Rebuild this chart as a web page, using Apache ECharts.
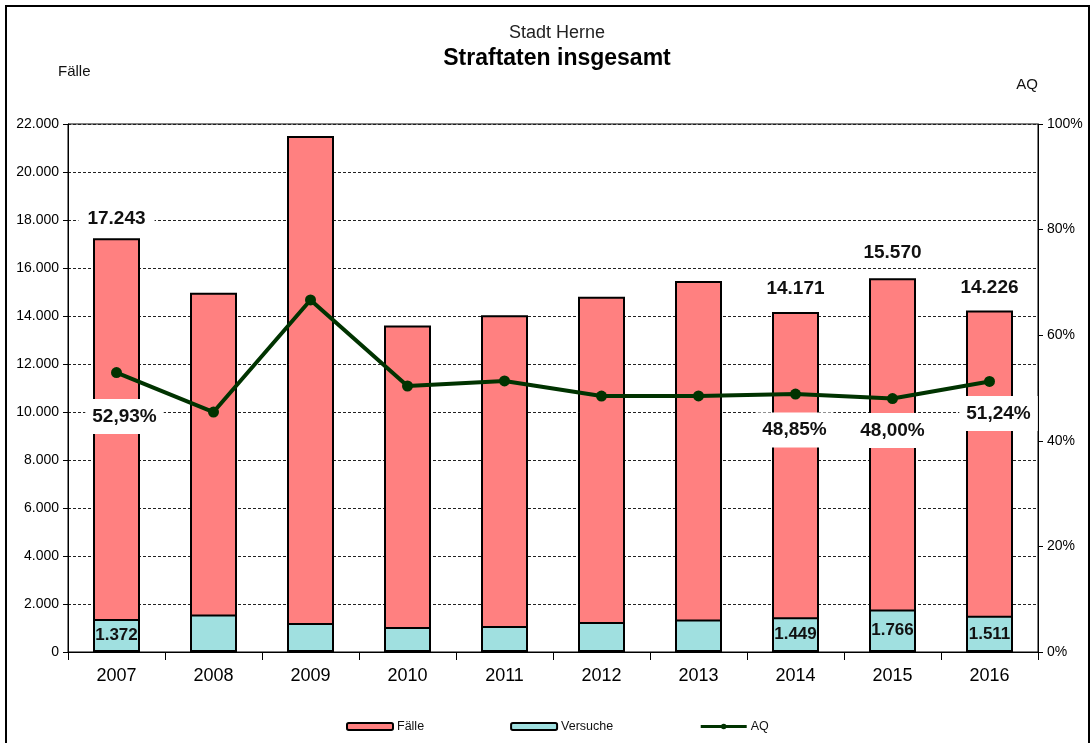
<!DOCTYPE html>
<html>
<head>
<meta charset="utf-8">
<script src="https://cdn.jsdelivr.net/npm/echarts@6/dist/echarts.min.js"></script>
<style>
html,body{margin:0;padding:0;background:#fff;}
#chart{width:1091px;height:743px;}
</style>
</head>
<body>
<div id="chart"></div>
<script>
// ---- Data ----
const categories = ['2007','2008','2009','2010','2011','2012','2013','2014','2015','2016'];
const faelle   = [17243, 14970, 21500, 13600, 14030, 14800, 15460, 14171, 15570, 14226];
const versuche = [1372, 1560, 1210, 1040, 1080, 1250, 1350, 1449, 1766, 1511];
const aq       = [52.93, 45.45, 66.67, 50.38, 51.33, 48.48, 48.50, 48.85, 48.00, 51.24];
const labelledYears = ['2007','2014','2015','2016'];
const leftTicks = {min: 0, max: 22000, interval: 2000};
const rightTicks = {min: 0, max: 100, interval: 20};

// ---- Styling helpers ----
const FONT = 'Liberation Sans, Arial, sans-serif';
const fmtNum = v => String(v).replace(/\B(?=(\d{3})+(?!\d))/g, '.');
const fmtPct = v => v.toFixed(2).replace('.', ',') + '%';
const isLabelled = i => labelledYears.includes(categories[i]);
const faelleLabelDist = {0: 7, 7: 11, 8: 13, 9: 10};
const aqLabelOffset = {0: [8, 44], 7: [-1, 36], 8: [0, 32], 9: [9, 32]};

const faelleData = faelle.map((v, i) => ({
  value: v,
  label: {show: isLabelled(i), distance: faelleLabelDist[i] || 8}
}));
const versucheData = versuche.map((v, i) => ({
  value: v,
  label: {show: isLabelled(i)}
}));
const aqData = aq.map((v, i) => ({
  value: v,
  label: {show: isLabelled(i), offset: aqLabelOffset[i] || [0, 32]}
}));

const chart = echarts.init(document.getElementById('chart'), null, {renderer: 'canvas'});
chart.setOption({
  backgroundColor: '#fff',
  animation: false,
  textStyle: {fontFamily: FONT},
  grid: {left: 68, right: 53, top: 124, bottom: 91, show: true, borderColor: '#000', borderWidth: 1, backgroundColor: 'transparent'},
  legend: {
    left: 341, top: 715,
    itemWidth: 46, itemHeight: 7, itemGap: 86,
    lineStyle: {width: 3},
    textStyle: {fontFamily: FONT, fontSize: 12.5, color: '#111', padding: [0, 0, 0, -1]},
    data: ['Fälle', 'Versuche', 'AQ']
  },
  xAxis: {
    type: 'category',
    data: categories,
    axisLine: {lineStyle: {color: '#000', width: 1}},
    axisTick: {show: true, alignWithLabel: false, length: 8, lineStyle: {color: '#000'}},
    axisLabel: {fontFamily: FONT, fontSize: 18, color: '#000', margin: 15},
    splitLine: {show: false}
  },
  yAxis: [
    {
      type: 'value',
      min: leftTicks.min, max: leftTicks.max, interval: leftTicks.interval,
      axisLine: {show: true, lineStyle: {color: '#000'}},
      axisTick: {show: true, length: 5, lineStyle: {color: '#000'}},
      axisLabel: {fontFamily: FONT, fontSize: 14, color: '#000', margin: 9, formatter: v => fmtNum(v)},
      splitLine: {show: true, lineStyle: {color: '#222', width: 1, type: [3, 2]}}
    },
    {
      type: 'value',
      min: rightTicks.min, max: rightTicks.max, interval: rightTicks.interval,
      position: 'right',
      axisLine: {show: true, lineStyle: {color: '#000'}},
      axisTick: {show: true, length: 5, lineStyle: {color: '#000'}},
      axisLabel: {fontFamily: FONT, fontSize: 14, color: '#000', margin: 9, formatter: v => v + '%'},
      splitLine: {show: false}
    }
  ],
  series: [
    {
      name: 'Fälle',
      type: 'bar',
      data: faelleData,
      barWidth: 47,
      barGap: '-100%',
      itemStyle: {color: '#FF8080', borderColor: '#000', borderWidth: 2},
      label: {
        position: 'top',
        fontFamily: FONT, fontSize: 19, fontWeight: 'bold', color: '#111',
        backgroundColor: '#fff', padding: [3, 9],
        formatter: p => fmtNum(p.value)
      },
      z: 2
    },
    {
      name: 'Versuche',
      type: 'bar',
      data: versucheData,
      barWidth: 47,
      barGap: '-100%',
      itemStyle: {color: '#A0E0E0', borderColor: '#000', borderWidth: 2},
      label: {
        position: 'inside',
        fontFamily: FONT, fontSize: 17, fontWeight: 'bold', color: '#111',
        formatter: p => fmtNum(p.value)
      },
      z: 3
    },
    {
      name: 'AQ',
      type: 'line',
      yAxisIndex: 1,
      data: aqData,
      symbol: 'circle',
      symbolSize: 11,
      lineStyle: {color: '#003300', width: 4},
      itemStyle: {color: '#003300'},
      label: {
        position: 'inside',
        fontFamily: FONT, fontSize: 19, fontWeight: 'bold', color: '#111',
        backgroundColor: '#fff', padding: [8, 7],
        formatter: p => fmtPct(p.value)
      },
      z: 5
    }
  ],
  graphic: [
    {type: 'rect', shape: {x: 6, y: 6, width: 1083, height: 760}, style: {fill: 'none', stroke: '#000', lineWidth: 2}, silent: true, z: 100},
    {type: 'text', style: {text: 'Stadt Herne', x: 557, y: 33, textAlign: 'center', textVerticalAlign: 'middle', font: '18px ' + FONT, fill: '#222'}},
    {type: 'text', style: {text: 'Straftaten insgesamt', x: 557, y: 59, textAlign: 'center', textVerticalAlign: 'middle', font: 'bold 23px ' + FONT, fill: '#000'}},
    {type: 'text', style: {text: 'Fälle', x: 58, y: 72, textAlign: 'left', textVerticalAlign: 'middle', font: '15px ' + FONT, fill: '#111'}},
    {type: 'text', style: {text: 'AQ', x: 1038, y: 85, textAlign: 'right', textVerticalAlign: 'middle', font: '15px ' + FONT, fill: '#111'}}
  ]
});
</script>
</body>
</html>
